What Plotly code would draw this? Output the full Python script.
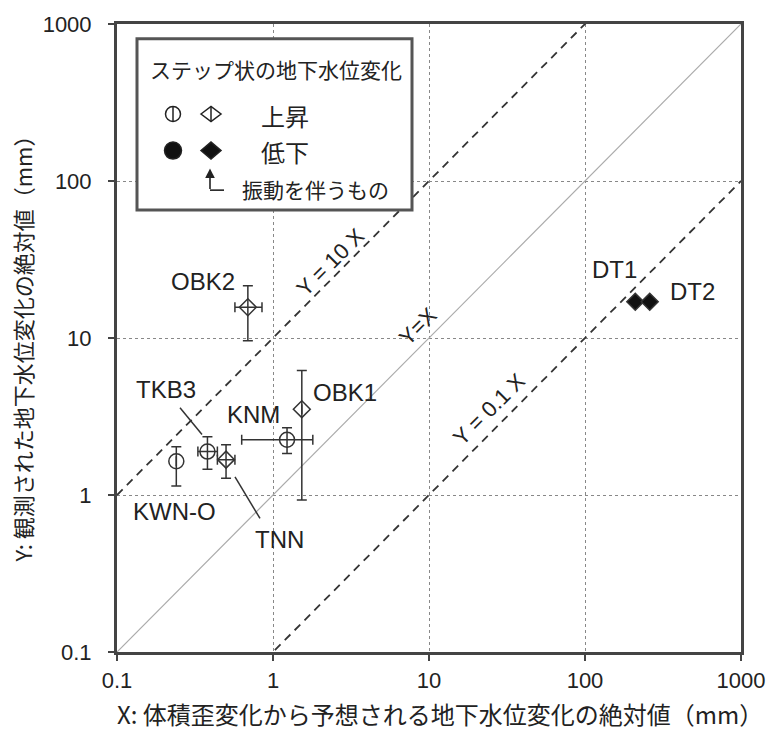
import numpy as np
import plotly.graph_objects as go

# Observed vs. predicted step-like groundwater level changes (mm)
stations = ["KWN-O", "TKB3", "TNN", "KNM", "OBK1", "OBK2", "DT1", "DT2"]
x_val = [0.24, 0.38, 0.50, 1.23, 1.53, 0.69, 210, 260]
x_lo = [0.24, 0.33, 0.44, 0.63, 1.53, 0.57, 210, 260]
x_hi = [0.24, 0.44, 0.57, 1.80, 1.53, 0.85, 210, 260]
y_val = [1.64, 1.89, 1.68, 2.25, 3.52, 15.7, 17.0, 17.0]
y_lo = [1.14, 1.46, 1.28, 1.84, 0.93, 9.6, 17.0, 17.0]
y_hi = [2.03, 2.35, 2.09, 2.68, 6.2, 21.5, 17.0, 17.0]
direction = ["up", "up", "up", "up", "up", "up", "down", "down"]
oscillation = [False, False, True, False, True, True, True, True]

ratios = [10, 1, 0.1]
ratio_labels = ["Y = 10 X", "Y=X", "Y = 0.1 X"]
tick_vals = [0.1, 1, 10, 100, 1000]
tick_text = ["0.1", "1", "10", "100", "1000"]

W, H = 778, 732
L, R, T, B = 117, 741, 17, 652
LAT = "Liberation Sans, Arial, sans-serif"
JP = "Noto Sans CJK JP, sans-serif"
INK = "#222"


def px(x):
    return (x - L) / (R - L)


def py(y):
    return (B - y) / (B - T)


def note(x, y, text, size, family=LAT, xanchor="center", **kw):
    d = dict(x=px(x), y=py(y), xref="paper", yref="paper", text=text,
             showarrow=False, xanchor=xanchor, yanchor="middle",
             font=dict(family=family, size=size, color=INK))
    d.update(kw)
    return d


fig = go.Figure()

# reference lines Y = k X
for k in ratios:
    fig.add_trace(go.Scatter(
        x=[0.1, 1000], y=[0.1 * k, 1000 * k], mode="lines",
        line=dict(color="#aaaaaa" if k == 1 else "#333333",
                  width=1.2 if k == 1 else 1.8,
                  dash="solid" if k == 1 else "8px,6px"),
        hoverinfo="skip", showlegend=False))

xv, yv = np.array(x_val), np.array(y_val)
err_x_p, err_x_m = np.array(x_hi) - xv, xv - np.array(x_lo)
err_y_p, err_y_m = np.array(y_hi) - yv, yv - np.array(y_lo)


def group(mask, symbol, filled):
    idx = [i for i, m in enumerate(mask) if m]
    if not idx:
        return
    fig.add_trace(go.Scatter(
        x=xv[idx], y=yv[idx], mode="markers", text=[stations[i] for i in idx],
        marker=dict(symbol=symbol, size=13 if symbol == "diamond" else 15,
                    color="#111" if filled else "rgba(0,0,0,0)",
                    line=dict(color="#333", width=1.5)),
        error_x=dict(type="data", array=err_x_p[idx], arrayminus=err_x_m[idx],
                     color="#333", thickness=1.5, width=5),
        error_y=dict(type="data", array=err_y_p[idx], arrayminus=err_y_m[idx],
                     color="#333", thickness=1.5, width=5),
        showlegend=False))


group([d == "up" and not o for d, o in zip(direction, oscillation)], "circle", False)
group([d == "up" and o for d, o in zip(direction, oscillation)], "diamond", False)
group([d == "down" and not o for d, o in zip(direction, oscillation)], "circle", True)
group([d == "down" and o for d, o in zip(direction, oscillation)], "diamond", True)

annotations = []

# station labels
label_pos = {"KWN-O": (174, 510), "TKB3": (166, 387), "TNN": (279, 538),
             "KNM": (253, 412), "OBK1": (345, 390), "OBK2": (203, 277),
             "DT1": (614, 265), "DT2": (692, 287)}
for name in stations:
    lx, ly = label_pos[name]
    annotations.append(note(lx, ly, name, 24))

# reference line labels
line_label_pos = [(330, 258), (418, 323), (489, 407)]
for t, (lx, ly) in zip(ratio_labels, line_label_pos):
    annotations.append(note(lx, ly, t, 22, textangle=-45))

# axis titles
annotations.append(note(440, 714, "X: 体積歪変化から予想される地下水位変化の絶対値（mm）",
                        24, family=JP))
annotations.append(note(22, 340, "Y: 観測された地下水位変化の絶対値（mm）", 22,
                        family=JP, textangle=-90))

# legend texts
annotations += [
    note(148, 62, "ステップ状の地下水位変化", 21, family=JP, xanchor="left"),
    note(259, 110, "上昇", 24, family=JP, xanchor="left"),
    note(259, 146, "低下", 24, family=JP, xanchor="left"),
    note(240, 184, "振動を伴うもの", 21, family=JP, xanchor="left"),
]

# arrow pointing at the oscillation symbol
annotations.append(dict(x=px(210), y=py(163), xref="paper", yref="paper",
                        text="", showarrow=True, arrowhead=2, arrowsize=1.2,
                        arrowwidth=1.6, arrowcolor="#222", ax=0, ay=22, standoff=0))

shapes = [
    # leader lines
    dict(type="line", xref="paper", yref="paper", x0=px(180), y0=py(405),
         x1=px(202), y1=py(432), line=dict(color="#333", width=1.5)),
    dict(type="line", xref="paper", yref="paper", x0=px(235), y0=py(475),
         x1=px(260), y1=py(517), line=dict(color="#333", width=1.5)),
    # legend box
    dict(type="rect", xref="paper", yref="paper", x0=px(137), y0=py(205),
         x1=px(412), y1=py(32), line=dict(color="#555", width=3),
         fillcolor="white", layer="above"),
    dict(type="line", xref="paper", yref="paper", x0=px(210), y0=py(185),
         x1=px(224), y1=py(185), line=dict(color="#222", width=1.6), layer="above"),
]


def sym_shape(cx, cy, kind, filled):
    base = dict(xref="paper", yref="paper", xsizemode="pixel", ysizemode="pixel",
                xanchor=px(cx), yanchor=py(cy), layer="above",
                line=dict(color="#222", width=1.5),
                fillcolor="#111" if filled else "rgba(0,0,0,0)")
    r = 8.5 if filled else 7.5
    if kind == "circle":
        s = dict(type="circle", x0=-r, x1=r, y0=-r, y1=r)
    else:
        s = dict(type="path", path=f"M -10 0 L 0 {r} L 10 0 L 0 {-r} Z")
    s.update(base)
    out = [s]
    if not filled:
        v = dict(base)
        v.update(type="line", x0=0, x1=0, y0=-r, y1=r)
        out.append(v)
    return out


shapes += sym_shape(173, 108, "circle", False)
shapes += sym_shape(211, 108, "diamond", False)
shapes += sym_shape(173, 145, "circle", True)
shapes += sym_shape(211, 145, "diamond", True)

axis_common = dict(type="log", range=[-1, 3], tickvals=tick_vals, ticktext=tick_text,
                   showline=True, mirror=True, linecolor="#444", linewidth=3,
                   ticks="outside", ticklen=6, tickcolor="#444", tickwidth=1.5,
                   showgrid=True, gridcolor="#888", gridwidth=1, griddash="3px,3px",
                   zeroline=False, tickfont=dict(family=LAT, size=22, color=INK))

fig.update_layout(
    width=W, height=H,
    margin=dict(l=L, r=W - R, t=T, b=H - B),
    paper_bgcolor="white", plot_bgcolor="white",
    xaxis=dict(**axis_common, ticklabelstandoff=1),
    yaxis=dict(**axis_common, ticklabelstandoff=12),
    annotations=annotations, shapes=shapes, showlegend=False,
)

fig.write_html("out.html")
